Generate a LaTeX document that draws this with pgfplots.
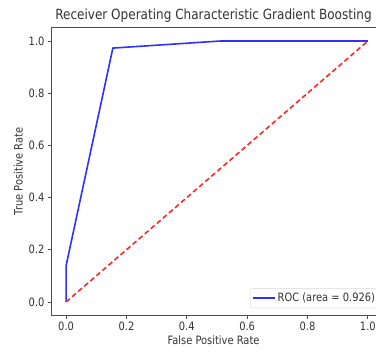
\documentclass[border=0pt]{standalone}
\usepackage{pgfplots}
\pgfplotsset{compat=1.18}
\usepackage{fontspec}
\setmainfont{DejaVu Sans}[FakeStretch=0.86]
\definecolor{spine}{HTML}{4d4d4d}
\definecolor{txt}{HTML}{333333}
\definecolor{roc}{HTML}{3030FF}
\begin{document}
\begin{tikzpicture}
\begin{axis}[
  scale only axis, width=325pt, height=287pt,
  xmin=-0.05, xmax=1.027, ymin=-0.05, ymax=1.05,
  axis x line*=box, axis y line*=left,
  axis line style={spine, line width=1pt},
  xtick={0,0.2,0.4,0.6,0.8,1.0}, ytick={0,0.2,0.4,0.6,0.8,1.0},
  xtick pos=bottom, ytick pos=left,
  tick align=outside, major tick length=3.5pt,
  tick style={spine, line width=0.9pt},
  /pgf/number format/assume math mode=true,
  /pgf/number format/.cd, fixed, fixed zerofill, precision=1, /pgfplots/.cd,
  ticklabel style={font=\fontsize{11.5}{13}\selectfont, text=txt},
  yticklabel style={xshift=0.5pt},
  label style={font=\fontsize{11.5}{13}\selectfont, text=txt},
  title style={font=\fontsize{14}{16}\selectfont, text=txt, yshift=-4pt},
  xlabel style={yshift=2pt},
  ylabel style={yshift=-1pt},
  title={Receiver Operating Characteristic Gradient Boosting},
  xlabel={False Positive Rate}, ylabel={True Positive Rate},
  legend style={at={(1.01,0.024)}, anchor=south east, draw=black!15, rounded corners=2pt,
     font=\fontsize{11.5}{13}\selectfont, text=txt, inner ysep=2.5pt, inner xsep=2pt},
  legend cell align=left,
  legend image code/.code={\draw[#1] (0pt,0pt) -- (22pt,0pt);},
]
\addplot[roc, line width=1.6pt] coordinates {(0,0) (0,0.139) (0.155,0.973) (0.51,1.0) (1.0,1.0)};
\addlegendentry{ROC (area = 0.926)}
\addplot[red!85, line width=1.6pt, dash pattern=on 5pt off 3pt] coordinates {(0,0) (1,1)};
\end{axis}
\pgfresetboundingbox
\useasboundingbox ([shift={(-51pt,-45pt)}]current axis.south west) rectangle ([shift={(0pt,28pt)}]current axis.north east);
\end{tikzpicture}
\end{document}
